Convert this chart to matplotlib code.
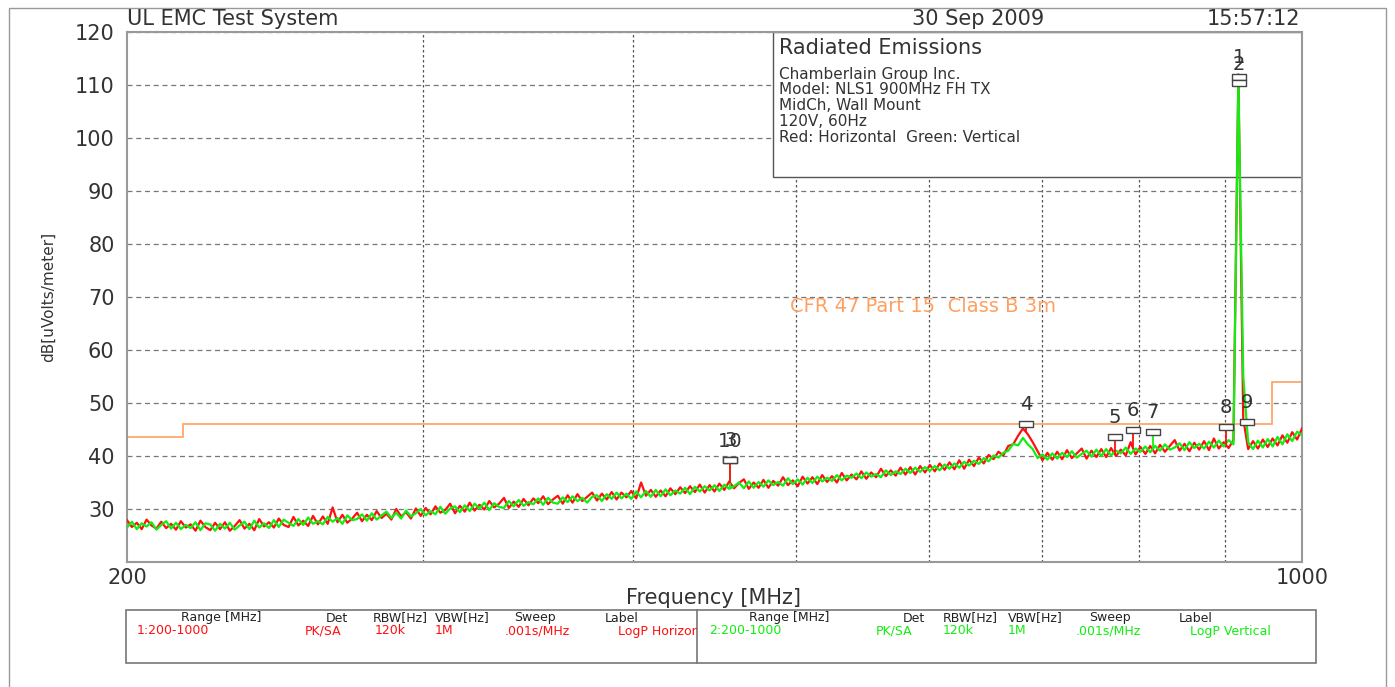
import numpy as np
import matplotlib.pyplot as plt
from matplotlib.patches import Rectangle
from matplotlib.path import Path
from matplotlib.ticker import NullFormatter
from matplotlib.transforms import Bbox, TransformedBbox

# UL EMC radiated emissions plot, 200-1000 MHz, two polarisations

W, H = 1395, 687

# sweep points (241, log spaced like the analyzer sweep)
freq = 200 * 5 ** (np.arange(241) / 240)

# red trace, horizontal polarisation [dBuV/m]
horiz = [27.9, 26.6, 27.4, 26.2, 28.0, 26.9, 26.3, 27.6, 26.4, 27.2,
         26.1, 27.7, 26.5, 27.1, 25.9, 27.8, 26.6, 26.0, 27.4, 26.2,
         27.5, 25.9, 26.8, 27.9, 26.3, 27.2, 26.0, 28.1, 26.7, 27.5,
         26.5, 28.2, 27.0, 26.6, 28.5, 26.9, 27.8, 26.8, 28.7, 27.1,
         28.6, 27.2, 30.3, 27.5, 28.9, 27.4, 28.2, 29.3, 27.7, 28.9,
         27.9, 29.6, 28.3, 29.1, 28.0, 30.0, 28.6, 29.4, 28.2, 30.1,
         28.7, 30.2, 29.0, 30.5, 29.3, 29.8, 31.0, 29.2, 30.6, 29.5,
         31.2, 29.7, 30.8, 29.9, 31.5, 30.3, 31.0, 32.1, 30.2, 31.4,
         30.4, 31.9, 30.7, 32.0, 31.1, 32.4, 30.9, 31.8, 32.5, 31.0,
         32.6, 31.2, 32.8, 31.5, 32.3, 33.1, 31.6, 32.9, 31.8, 33.2,
         31.8, 33.1, 32.2, 33.4, 32.0, 35.0, 32.5, 33.6, 32.3, 33.5,
         32.4, 33.9, 32.8, 34.1, 33.0, 34.3, 33.2, 34.6, 33.1, 34.5,
         33.3, 34.8, 33.6, 35.2, 33.9, 34.9, 35.6, 33.8, 35.0, 34.0,
         35.5, 34.0, 35.3, 34.4, 36.0, 34.5, 35.4, 34.3, 36.1, 34.8,
         36.0, 34.7, 36.4, 35.1, 36.2, 35.0, 36.8, 35.4, 36.5, 35.6,
         37.1, 35.7, 36.9, 36.0, 37.6, 36.2, 37.3, 36.3, 37.8, 36.5,
         37.9, 36.5, 38.1, 36.9, 38.3, 37.1, 38.6, 37.4, 38.8, 37.5,
         39.2, 37.6, 39.3, 38.1, 39.7, 38.6, 40.2, 39.4,
         40.8, 40.1, 41.9, 42.2, 43.8, 45.2, 44.1, 42.6, 40.9, 39.2, 40.6, 39.3,
         40.8, 39.4, 41.1, 39.6, 40.5, 41.4, 39.5, 41.0, 39.8, 41.3,
         39.8, 41.5, 40.0, 41.2, 40.1, 42.6, 40.3, 41.7, 40.4, 41.9,
         40.5, 42.1, 40.8, 41.9, 43.0, 41.0, 42.3, 40.9, 42.5, 41.2,
         42.8, 41.1, 43.3, 41.4, 42.6, 41.5, 43.0,
         112.0,
         47.0, 41.3, 42.8, 41.4, 43.1, 41.7, 43.3, 42.0, 43.9, 42.5, 44.5, 43.1, 45.2]

# green trace, vertical polarisation [dBuV/m]
vert = [26.5, 27.6, 26.2, 27.3, 26.7, 27.5, 26.1, 27.0, 27.7, 26.3,
        27.4, 26.2, 27.0, 26.4, 27.5, 26.0, 27.3, 27.1, 25.9, 27.2,
        26.3, 27.4, 26.1, 26.9, 27.6, 26.2, 27.8, 26.5, 27.3, 26.4,
        27.9, 26.6, 28.0, 27.4, 26.8, 28.1, 27.0, 28.4, 27.2, 27.7,
        27.1, 28.5, 27.6, 28.3, 27.2, 28.8, 27.9, 28.1, 29.0, 27.8,
        29.2, 28.0, 28.8, 29.5, 28.3, 29.3, 28.2, 29.7, 28.6, 29.2,
        30.0, 28.8, 29.6, 29.0, 30.4, 29.1, 30.1, 30.5, 29.4, 30.7,
        29.6, 31.0, 30.1, 31.2, 29.8, 31.1, 30.4, 30.2, 31.5, 30.5,
        31.7, 30.6, 31.3, 30.9, 32.0, 30.8, 32.1, 31.2, 31.0, 32.2,
        31.3, 32.4, 31.5, 32.1, 31.2, 32.3, 32.6, 31.5, 32.8, 31.9,
        33.1, 32.0, 32.9, 31.9, 33.3, 32.2, 33.4, 32.3, 33.6, 32.4,
        33.7, 32.6, 33.5, 32.9, 34.0, 32.8, 34.2, 33.3, 34.3, 33.5,
        34.5, 33.4, 34.6, 33.8, 34.3, 35.0, 33.9, 35.2, 34.0, 35.1,
        34.2, 35.4, 34.5, 35.1, 34.4, 35.8, 34.7, 35.6, 34.6, 35.9,
        34.9, 36.1, 35.2, 35.9, 35.3, 36.4, 35.4, 36.3, 35.9, 36.7,
        35.8, 36.9, 36.1, 36.6, 36.0, 37.3, 36.4, 37.1, 36.6, 37.6,
        36.8, 37.8, 37.0, 37.9, 37.2, 38.1, 37.3, 38.4, 37.6, 38.6,
        37.8, 38.9, 38.2, 39.1, 38.5, 39.6, 39.0, 40.1,
        39.7, 40.6, 41.0, 42.3, 42.0, 43.4, 42.2, 41.3, 39.6, 40.3, 39.3, 40.5,
        39.5, 40.6, 39.8, 40.9, 39.7, 40.4, 41.0, 39.9, 41.2, 40.0,
        41.3, 40.1, 41.0, 40.5, 41.6, 40.4, 41.4, 40.8, 41.8, 40.7,
        41.9, 41.0, 42.2, 41.2, 41.6, 42.4, 41.1, 42.6, 41.5, 42.3,
        41.4, 42.7, 41.6, 42.9, 41.8, 43.0, 42.2,
        111.0,
        55.0, 42.6, 41.3, 42.9, 41.6, 43.2, 41.8, 43.6, 42.2, 44.1, 42.8, 44.6, 43.9]

# CFR 47 Part 15 Class B 3m limit
limit_f = [200, 216, 960, 1000]
limit_db = [43.5, 46.0, 54.0]

# markers
mk_labels = ['1', '2', '3', '4', '5', '6', '7', '8', '9', '10']
mk_freq = [917, 917, 457, 685, 774, 793, 815, 901, 927, 457]
mk_db = [111.6, 110.3, 39.3, 46.0, 43.6, 44.9, 44.5, 45.5, 46.4, 39.2]
mk_trace = ['h', 'v', 'v', 'h', 'h', 'h', 'v', 'h', 'v', 'h']

RED = '#ff1010'
GREEN = '#11ee11'
ORANGE = '#ffa060'
TXT = '#333333'


def fx(px):
    return px / W


def fy(py):
    return 1 - py / H


fig = plt.figure(figsize=(W / 100, H / 100), dpi=100)
ax = fig.add_axes([fx(127), fy(562), 1175 / W, 530 / H])
ax.set_xscale('log')
ax.set_xlim(200, 1000)
ax.set_ylim(20, 120)
ax.set_xticks([200, 1000])
ax.set_xticklabels(['200', '1000'])
ax.set_xticks([300, 400, 500, 600, 700, 800, 900], minor=True)
ax.xaxis.set_minor_formatter(NullFormatter())
ax.set_yticks(range(30, 130, 10))
ax.tick_params(which='both', length=0, labelsize=15, colors=TXT)
ax.tick_params(axis='x', pad=4)
ax.tick_params(axis='y', pad=9)
ax.grid(axis='y', which='major', color='#777777', ls=(0, (4, 3)), lw=0.9)
ax.grid(axis='x', which='minor', color='#555555', ls=(0, (2, 2)), lw=0.9)
ax.grid(axis='x', which='major', visible=False)
for s in ax.spines.values():
    s.set_color('#999999')
    s.set_linewidth(1.5)

# info box inside the plot
ax.add_patch(Rectangle((fx(773), fy(177)), fx(1302) - fx(773), fy(32) - fy(177),
                       transform=fig.transFigure, fc='white', ec='#555555',
                       lw=1, zorder=2))

# limit line
ax.stairs(limit_db, limit_f, color=ORANGE, lw=1.2, zorder=2.5)
ax.text(496, 68.3, 'CFR 47 Part 15  Class B 3m', color=ORANGE, fontsize=14,
        va='center', ha='left')

# traces
ax.plot(freq, horiz, color=RED, lw=1.6, zorder=3)
ax.plot(freq, vert, color=GREEN, lw=1.6, zorder=4)

# marker spikes and boxes
logf = np.log(freq)
for lab, f, db, tr in zip(mk_labels, mk_freq, mk_db, mk_trace):
    data = horiz if tr == 'h' else vert
    col = RED if tr == 'h' else GREEN
    base = np.interp(np.log(f), logf, data)
    if db > base:
        ax.vlines(f, base, db, color=col, lw=1.3, zorder=4.5)
    ax.annotate(lab, (f, db), xytext=(0, 7), textcoords='offset points',
                ha='center', va='bottom', fontsize=14, color=TXT, zorder=6)

box = Path([(-1, -0.5), (1, -0.5), (1, 0.5), (-1, 0.5), (-1, -0.5)])
ax.plot(mk_freq, mk_db, ls='none', marker=box, ms=10, mfc='white',
        mec='#444444', mew=1, zorder=5)

# header texts
fig.text(fx(127), fy(19), 'UL EMC Test System', fontsize=15, color=TXT,
         ha='left', va='center')
fig.text(fx(912), fy(19), '30 Sep 2009', fontsize=15, color=TXT,
         ha='left', va='center')
fig.text(fx(1300), fy(19), '15:57:12', fontsize=15, color=TXT,
         ha='right', va='center')
fig.text(fx(714), fy(598), 'Frequency [MHz]', fontsize=15, color=TXT,
         ha='center', va='center')
fig.text(fx(48), fy(297), 'dB[uVolts/meter]', fontsize=11, color=TXT,
         rotation=90, ha='center', va='center')

fig.text(fx(779), fy(48), 'Radiated Emissions', fontsize=15, color=TXT,
         ha='left', va='center')
info = ['Chamberlain Group Inc.', 'Model: NLS1 900MHz FH TX',
        'MidCh, Wall Mount', '120V, 60Hz', 'Red: Horizontal  Green: Vertical']
for line, py in zip(info, [75, 90, 106, 121, 137]):
    fig.text(fx(779), fy(py), line, fontsize=11, color=TXT, ha='left', va='center')

# bottom table
fig.add_artist(Rectangle((fx(126), fy(663)), fx(1316) - fx(126), fy(610) - fy(663),
                         transform=fig.transFigure, fill=False, ec='#777777', lw=1.2))
fig.add_artist(plt.Line2D([fx(697), fx(697)], [fy(663), fy(610)],
                          transform=fig.transFigure, color='#777777', lw=1.2))

heads = ['Range [MHz]', 'Det', 'RBW[Hz]', 'VBW[Hz]', 'Sweep', 'Label']
left_hx = [221, 337, 400, 462, 535, 622]
right_hx = [789, 914, 970, 1035, 1110, 1196]
for h, a, b in zip(heads, left_hx, right_hx):
    fig.text(fx(a), fy(618), h, fontsize=9, color='#222222', ha='center', va='center')
    fig.text(fx(b), fy(618), h, fontsize=9, color='#222222', ha='center', va='center')

row1 = ['1:200-1000', 'PK/SA', '120k', '1M', '.001s/MHz', 'LogP Horizontal']
row2 = ['2:200-1000', 'PK/SA', '120k', '1M', '.001s/MHz', 'LogP Vertical']
left_dx = [137, 305, 375, 435, 505, 618]
right_dx = [709, 876, 943, 1008, 1076, 1190]
clip = TransformedBbox(Bbox([[fx(126), 0], [fx(697), 1]]), fig.transFigure)
for t1, t2, a, b in zip(row1, row2, left_dx, right_dx):
    t = fig.text(fx(a), fy(631), t1, fontsize=9, color=RED, ha='left', va='center')
    t.set_clip_box(clip)
    t.set_clip_on(True)
    fig.text(fx(b), fy(631), t2, fontsize=9, color=GREEN, ha='left', va='center')

# outer frame
fig.add_artist(Rectangle((fx(9), -0.01), fx(1386) - fx(9), fy(8) + 0.01,
                         transform=fig.transFigure, fill=False, ec='#999999', lw=1))

fig.savefig('out.png', dpi=100)
